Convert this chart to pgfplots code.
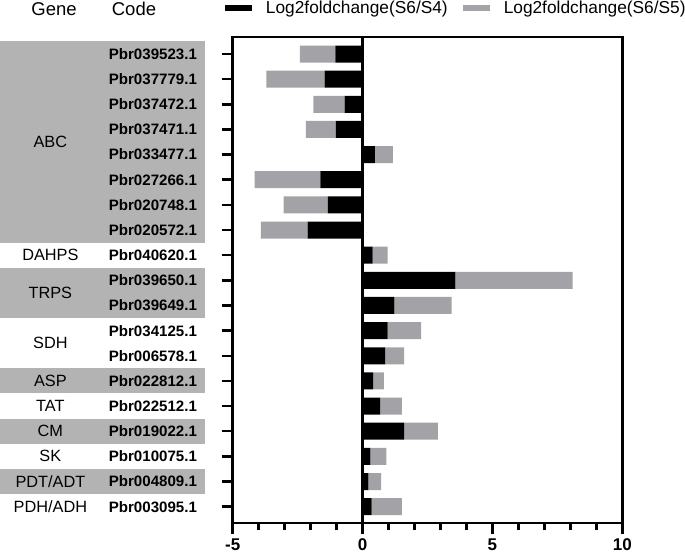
\documentclass[border=0pt]{standalone}
\usepackage{pgfplots}
\pgfplotsset{compat=1.18}
\usepackage{pgfplotstable}
\usepackage{fontspec}
\setmainfont{Liberation Sans}
\definecolor{bargrey}{RGB}{163,163,167}
\definecolor{bandgrey}{RGB}{179,179,179}

\pgfplotstableread{
y s4 s5
0 -1.05 -1.36
1 -1.46 -2.24
2 -0.69 -1.20
3 -1.03 -1.15
4 0.47 0.70
5 -1.62 -2.54
6 -1.34 -1.70
7 -2.12 -1.80
8 0.39 0.57
9 3.57 4.52
10 1.22 2.21
11 0.96 1.29
12 0.87 0.73
13 0.41 0.41
14 0.68 0.83
15 1.60 1.30
16 0.30 0.62
17 0.22 0.49
18 0.35 1.16
}\data

\tikzset{genelab/.style={font=\fontsize{16.3}{18}\selectfont}}

\begin{document}
\begin{tikzpicture}
\path[use as bounding box] (0,0) rectangle (685pt,555pt);
% gene group shading (drawn beneath the axis)
\fill[bandgrey] (0pt,513.57pt) rectangle (205pt,312.40pt);
\fill[bandgrey] (0pt,287.25pt) rectangle (205pt,236.96pt);
\fill[bandgrey] (0pt,186.66pt) rectangle (205pt,161.51pt);
\fill[bandgrey] (0pt,136.37pt) rectangle (205pt,111.22pt);
\fill[bandgrey] (0pt,86.08pt) rectangle (205pt,60.93pt);
\begin{axis}[
  at={(232.7pt,32pt)}, anchor=south west,
  scale only axis, width=389.6pt, height=486pt,
  xmin=-5, xmax=10, ymin=-0.676, ymax=18.65, y dir=reverse,
  xbar stacked, bar width=17pt,
  xtick={-5,0,5,10}, minor x tick num=4,
  ytick={0,...,18},
  yticklabels={Pbr039523.1,Pbr037779.1,Pbr037472.1,Pbr037471.1,Pbr033477.1,Pbr027266.1,Pbr020748.1,Pbr020572.1,Pbr040620.1,Pbr039650.1,Pbr039649.1,Pbr034125.1,Pbr006578.1,Pbr022812.1,Pbr022512.1,Pbr019022.1,Pbr010075.1,Pbr004809.1,Pbr003095.1},
  tick align=outside, xtick pos=bottom, ytick pos=left,
  major tick length=11pt, minor tick length=7pt,
  tick style={black, line width=2.5pt},
  line width=2.8pt,
  axis line style={line width=2.8pt},
  /pgf/number format/assume math mode=true,
  xticklabel style={font=\bfseries\fontsize{17}{17}\selectfont},
  yticklabel style={font=\bfseries\fontsize{15.1}{16}\selectfont, anchor=east, xshift=-20pt},
  clip=false,
  legend columns=2,
  legend style={at={(-0.0198,1.0597)}, anchor=west, draw=none, fill=none,
    inner sep=0pt, outer sep=0pt,
    nodes={inner sep=0pt},
    font=\fontsize{17.3}{19}\selectfont,
    /tikz/every odd column/.append style={column sep=14pt},
    /tikz/every even column/.append style={column sep=15pt}},
]
\addplot[fill=black, draw=none,
  legend image code/.code={\fill[black] (0pt,-3.4pt) rectangle (27pt,3.4pt);}]
  table[x=s4, y=y] {\data};
\addlegendentry{Log2foldchange(S6/S4)}
\addplot[fill=bargrey, draw=none,
  legend image code/.code={\fill[bargrey] (0pt,-3.4pt) rectangle (27pt,3.4pt);}]
  table[x=s5, y=y] {\data};
\addlegendentry{Log2foldchange(S6/S5)}
% headers
\node[font=\fontsize{18.5}{20}\selectfont] at (axis cs:-11.88,-1.79) {Gene};
\node[font=\fontsize{18.5}{20}\selectfont] at (axis cs:-8.80,-1.79) {Code};
% gene labels
\node[genelab] at (axis cs:-12.02,3.5) {ABC};
\node[genelab] at (axis cs:-12.02,8) {DAHPS};
\node[genelab] at (axis cs:-12.02,9.5) {TRPS};
\node[genelab] at (axis cs:-12.02,11.5) {SDH};
\node[genelab] at (axis cs:-12.02,13) {ASP};
\node[genelab] at (axis cs:-12.02,14) {TAT};
\node[genelab] at (axis cs:-12.02,15) {CM};
\node[genelab] at (axis cs:-12.02,16) {SK};
\node[genelab] at (axis cs:-12.02,17) {PDT/ADT};
\node[genelab] at (axis cs:-12.02,18) {PDH/ADH};
\draw[line width=2.6pt] (axis cs:0,-0.676) -- (axis cs:0,18.65);
\end{axis}
\end{tikzpicture}
\end{document}
